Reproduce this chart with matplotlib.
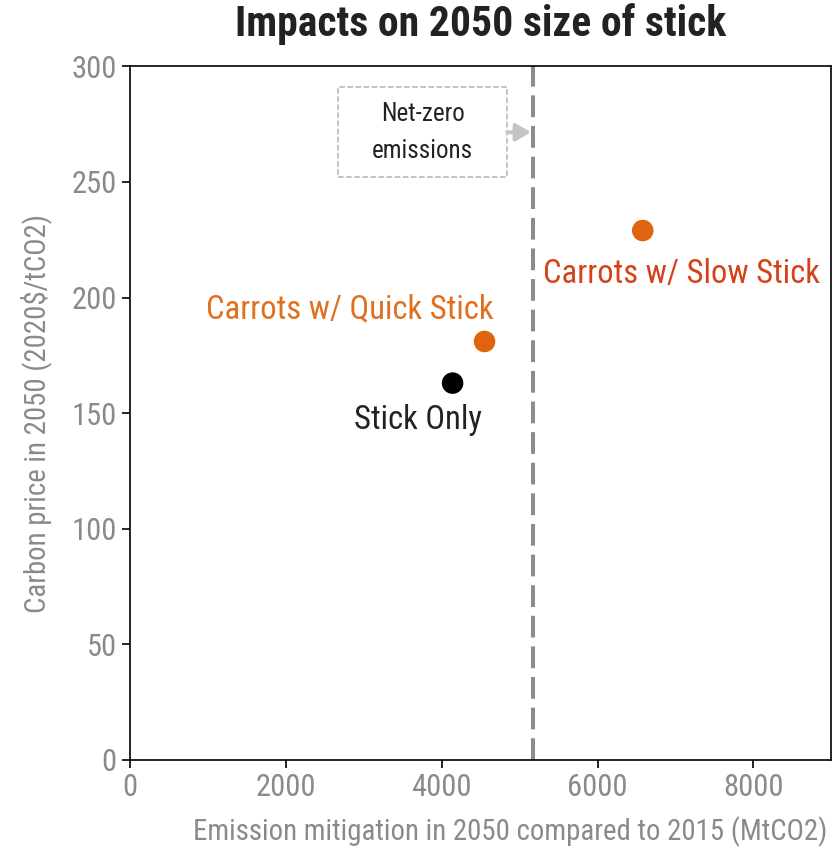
import matplotlib
matplotlib.use("Agg")
import matplotlib.pyplot as plt
from matplotlib.patches import Rectangle

plt.rcParams["font.family"] = ["Roboto Condensed", "Open Sans Condensed", "Noto Sans", "DejaVu Sans"]
plt.rcParams["font.stretch"] = "condensed"

# Scenario results: emission mitigation (MtCO2) vs carbon price (2020$/tCO2)
scenarios = ["Stick Only", "Carrots w/ Quick Stick", "Carrots w/ Slow Stick"]
mitigation = [4140, 4550, 6580]
carbon_price = [163, 181, 229]
point_colors = ["black", "#E0640F", "#E0640F"]
label_colors = ["#222222", "#E07020", "#D5421A"]

net_zero = 5170

x_ticks = [0, 2000, 4000, 6000, 8000]
y_ticks = [0, 50, 100, 150, 200, 250, 300]

gray = "#8a8a8a"

fig = plt.figure(figsize=(8.33, 8.51), dpi=100)
ax = fig.add_axes([0.156, 0.107, 0.842, 0.815])

ax.scatter(mitigation, carbon_price, s=210, c=point_colors, zorder=3)
ax.axvline(net_zero, color="#8c8c8c", lw=2.9, ls=(0, (5.4, 2.2)), zorder=2)

# scenario labels, offset from their points
offsets = [(-440, -16), (-1725, 14), (495, -19)]
for name, x, y, (dx, dy), col in zip(scenarios, mitigation, carbon_price, offsets, label_colors):
    ax.text(x + dx, y + dy, name, color=col, fontsize=23.5, ha="center", va="center")

# net-zero callout box with arrow to the line
ax.add_patch(Rectangle((2670, 252), 2170, 39, fill=False, ec="#b5b5b5", ls="--", lw=1.1))
ax.text(3755, 271.5, "Net-zero\nemissions", fontsize=18, ha="center", va="center",
        color="#222222", linespacing=1.7)
ax.annotate("", xy=(net_zero - 25, 271.5), xytext=(4840, 271.5),
            arrowprops=dict(arrowstyle="-|>,head_length=0.6,head_width=0.35",
                            color="#c4c4c4", lw=2.8, mutation_scale=15,
                            shrinkA=0, shrinkB=0))

ax.set_xlim(0, 9000)
ax.set_ylim(0, 300)
ax.set_xticks(x_ticks)
ax.set_yticks(y_ticks)
ax.tick_params(labelsize=22, labelcolor=gray, length=6, width=1.2, direction="out")
for s in ax.spines.values():
    s.set_linewidth(1.2)

ax.set_xlabel("Emission mitigation in 2050 compared to 2015 (MtCO2)", fontsize=20.8,
              color=gray)
ax.xaxis.set_label_coords(0.542, -0.082)
ax.set_ylabel("Carbon price in 2050 (2020$/tCO2)", fontsize=20.8, color=gray, labelpad=14)
fig.text(0.577, 1 - 24 / 851, "Impacts on 2050 size of stick", fontsize=30,
         fontweight="bold", color="#222222", ha="center", va="center")

fig.savefig("out.png", dpi=100)
